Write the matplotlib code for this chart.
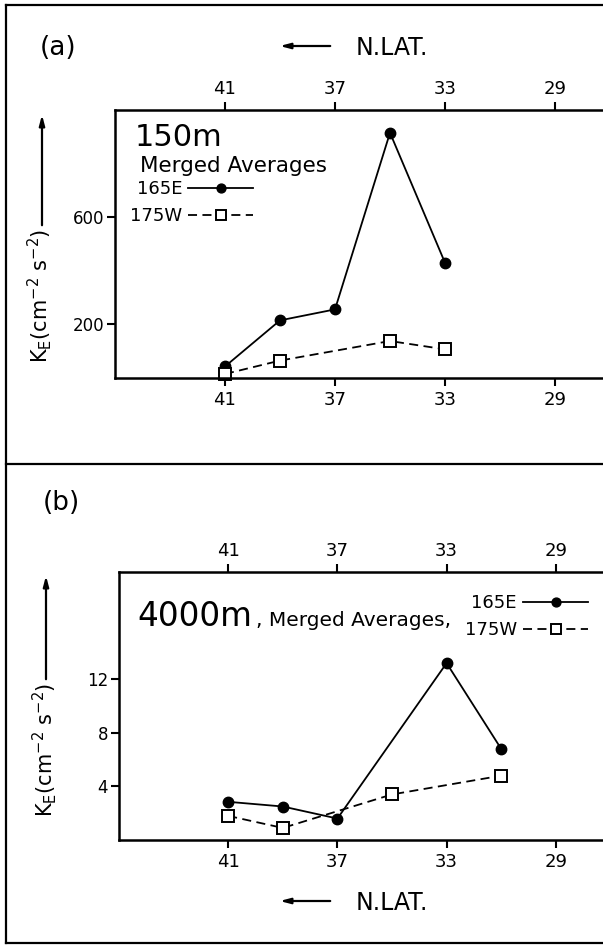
# two-panel KE vs latitude plot, 150 m and 4000 m
import matplotlib
matplotlib.use('Agg')
import matplotlib.pyplot as plt
from matplotlib.lines import Line2D

W, H = 603, 947

lat_ticks = [41, 37, 33, 29]

# (a) 150 m
lat_a_165e = [41, 39, 37, 35, 33]
ke_a_165e = [43, 215, 256, 915, 430]
lat_a_175w = [41, 39, 35, 33]
ke_a_175w = [15, 65, 138, 107]
yticks_a = [200, 600]

# (b) 4000 m
lat_b_165e = [41, 39, 37, 33, 31]
ke_b_165e = [2.85, 2.5, 1.6, 13.2, 6.8]
lat_b_175w = [41, 39, 35, 31]
ke_b_175w = [1.8, 0.9, 3.4, 4.8]
yticks_b = [4, 8, 12]

ylabel = r'K$_{\rm E}$(cm$^{-2}$ s$^{-2}$)'


def fx(x):
    return x / W


def fy(y):
    return 1 - y / H


def make_axes(fig, left, top, bottom, ppd, ylim, yticks):
    ax = fig.add_axes([fx(left), fy(bottom), 20 * ppd / W, (bottom - top) / H])
    ax.set_xlim(45, 25)
    ax.set_ylim(*ylim)
    ax.set_xticks(lat_ticks)
    ax.set_yticks(yticks)
    ax.spines['right'].set_visible(False)
    for s in ['left', 'top', 'bottom']:
        ax.spines[s].set_linewidth(1.8)
    ax.tick_params(axis='x', top=True, labeltop=True, bottom=True, labelbottom=True,
                   direction='out', length=6, width=1.5, labelsize=13, pad=3)
    ax.tick_params(axis='y', direction='out', length=6, width=1.5, labelsize=12, pad=2)
    return ax


def plot_series(ax, lat1, v1, lat2, v2):
    ax.plot(lat1, v1, '-', color='k', lw=1.3, marker='o', ms=7.5, mfc='k', mec='k',
            label='165E', clip_on=False)
    ax.plot(lat2, v2, '--', color='k', lw=1.3, dashes=(5, 3), marker='s', ms=9, mfc='white',
            mec='k', mew=1.4, label='175W', clip_on=False)


def add_legend(ax, x, y, loc, size):
    leg = ax.legend(loc=loc, bbox_to_anchor=(fx(x), fy(y)), bbox_transform=ax.figure.transFigure,
                    markerfirst=False, frameon=False, fontsize=size, handlelength=3.6,
                    handletextpad=0.35, labelspacing=0.5, borderpad=0, borderaxespad=0,
                    markerscale=0.85)
    return leg


fig = plt.figure(figsize=(W / 100, H / 100), dpi=100)

# panel (a)
ax1 = make_axes(fig, 115, 110, 378, 27.5, (0, 1000), yticks_a)
plot_series(ax1, lat_a_165e, ke_a_165e, lat_a_175w, ke_a_175w)
fig.text(fx(135), fy(137), '150m', fontsize=22, va='center', ha='left')
fig.text(fx(140), fy(166), 'Merged Averages', fontsize=15.5, va='center', ha='left')
add_legend(ax1, 130, 180, 'upper left', 13)

# panel (b)
ax2 = make_axes(fig, 119, 572, 840, 27.3, (0, 20), yticks_b)
plot_series(ax2, lat_b_165e, ke_b_165e, lat_b_175w, ke_b_175w)
fig.text(fx(137), fy(616), '4000m', fontsize=23.5, va='center', ha='left')
fig.text(fx(256), fy(620), ', Merged Averages,', fontsize=14.5, va='center', ha='left')
add_legend(ax2, 588, 594, 'upper right', 13)

# panel letters
fig.text(fx(40), fy(48), '(a)', fontsize=19, va='center', ha='left')
fig.text(fx(43), fy(503), '(b)', fontsize=19, va='center', ha='left')

# N. LAT. with arrows
for yy in [46, 901]:
    fig.add_artist(matplotlib.patches.FancyArrowPatch(
        (fx(333), fy(yy)), (fx(277), fy(yy)), transform=fig.transFigure,
        arrowstyle='-|>,head_length=6,head_width=1.6', lw=1.6, color='k'))
    fig.text(fx(356), fy(yy + 2), 'N.LAT.', fontsize=17, va='center', ha='left')

# y labels with upward arrows
fig.text(fx(40), fy(296), ylabel, fontsize=15, rotation=90, va='center', ha='center')
fig.add_artist(matplotlib.patches.FancyArrowPatch(
    (fx(42), fy(228)), (fx(42), fy(112)), transform=fig.transFigure,
    arrowstyle='-|>,head_length=6,head_width=1.6', lw=1.6, color='k'))
fig.text(fx(45), fy(750), ylabel, fontsize=15, rotation=90, va='center', ha='center')
fig.add_artist(matplotlib.patches.FancyArrowPatch(
    (fx(46), fy(682)), (fx(46), fy(573)), transform=fig.transFigure,
    arrowstyle='-|>,head_length=6,head_width=1.6', lw=1.6, color='k'))

# outer frame and divider
frame_kw = dict(transform=fig.transFigure, color='k', lw=1.6)
fig.add_artist(Line2D([fx(6), fx(6)], [fy(5), fy(943)], **frame_kw))
fig.add_artist(Line2D([fx(6), 1], [fy(5), fy(5)], **frame_kw))
fig.add_artist(Line2D([fx(6), 1], [fy(464), fy(464)], **frame_kw))
fig.add_artist(Line2D([fx(6), 1], [fy(943), fy(943)], **frame_kw))

fig.savefig('out.png', dpi=100)
